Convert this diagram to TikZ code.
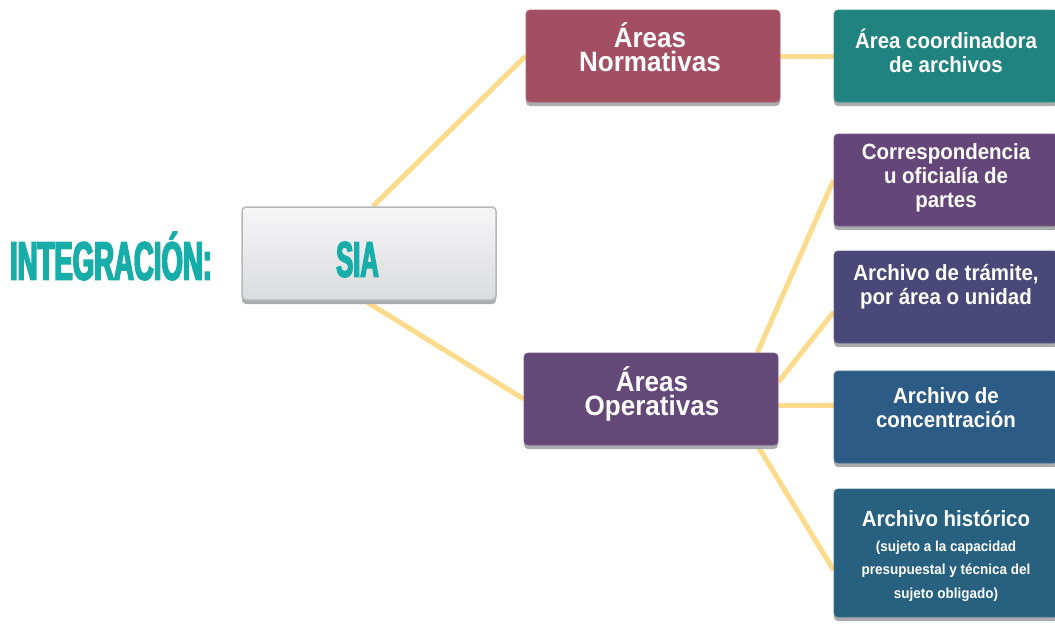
\documentclass[tikz,border=0pt]{standalone}
\usepackage{fontspec}
\setmainfont{Liberation Sans}
\newfontfamily\headfont{Liberation Sans}[FakeStretch=0.51, BoldFeatures={FakeBold=3}]
\newfontfamily\boxfont{Liberation Sans}[FakeStretch=0.93]
\usetikzlibrary{calc,shadows,backgrounds}

\definecolor{tealtxt}{HTML}{17ADA8}
\definecolor{link}{HTML}{FCDB8C}
\definecolor{shade}{HTML}{A9ABAE}
\definecolor{normc}{HTML}{A34E63}
\definecolor{coordc}{HTML}{21837F}
\definecolor{corrc}{HTML}{654678}
\definecolor{tramc}{HTML}{494878}
\definecolor{opc}{HTML}{644878}
\definecolor{concc}{HTML}{2C5B85}
\definecolor{histc}{HTML}{27617F}
\definecolor{siatop}{HTML}{F6F6F7}
\definecolor{siabot}{HTML}{DADBDD}
\definecolor{siaedge}{HTML}{B5B7B9}

\begin{document}
\begin{tikzpicture}[x=1pt, y=-1pt,
  conn/.style={draw=link, line width=5pt},
  panel/.style={rectangle, rounded corners=4pt, inner sep=0pt,
    minimum width=254pt, minimum height=92pt,
    fill=#1, draw=#1!88!white, line width=0.8pt,
    drop shadow={shadow xshift=0pt, shadow yshift=-4pt, fill=shade, opacity=1}},
  sidepanel/.style={panel=#1, minimum width=224pt},
  lab/.style={text=white, align=center, inner sep=0pt},
  biglab/.style={lab, font=\boxfont\bfseries\fontsize{28}{24}\selectfont},
  sidelab/.style={lab, font=\boxfont\bfseries\fontsize{22}{24}\selectfont},
  notelab/.style={lab, font=\boxfont\bfseries\fontsize{14.5}{23.5}\selectfont},
  headlab/.style={text=tealtxt, inner sep=0pt, font=\headfont\bfseries\fontsize{54}{60}\selectfont}
]
\useasboundingbox (0,0) rectangle (1055,625);
\clip (0,0) rectangle (1055,625);

% central box
\node[rectangle, rounded corners=4pt, minimum width=254pt, minimum height=93pt,
  top color=siatop, bottom color=siabot, draw=siaedge, line width=1.5pt,
  drop shadow={shadow xshift=0pt, shadow yshift=-4pt, fill=shade, opacity=1}]
  (sia) at (369,253.5) {};
\node[headlab, font=\headfont\bfseries\fontsize{50}{56}\selectfont] (siatxt) at (357.5,259.5) {SIA};
\node[headlab] (integ) at (111,256) {INTEGRACIÓN:};

% second level
\node[panel=normc] (norm) at (653,56) {};
\node[panel=opc] (op) at (651,399) {};
\node[biglab] (normtxt) at (650,47.5) {Áreas\\Normativas};
\node[biglab] (optxt) at (652,394) {Áreas\\Operativas};

% third level
\node[sidepanel=coordc] (coord) at (946,56) {};
\node[sidepanel=corrc] (corr) at (946,180) {};
\node[sidepanel=tramc] (tram) at (946,297) {};
\node[sidepanel=concc] (conc) at (946,417) {};
\node[sidepanel=histc, minimum height=128pt] (hist) at (946,553) {};

\node[sidelab] (coordtxt) at (946,51) {Área coordinadora\\de archivos};
\node[sidelab] (corrtxt) at (946,178) {Correspondencia\\u oficialía de\\partes};
\node[sidelab] (tramtxt) at (946,287) {Archivo de trámite,\\por área o unidad};
\node[sidelab] (conctxt) at (946,408) {Archivo de\\concentración};
\node[sidelab] (histtxt) at (946,519) {Archivo histórico};
\node[notelab] (histnote) at (946,571) {(sujeto a la capacidad\\presupuestal y técnica del\\sujeto obligado)};

% connectors behind the boxes
\begin{scope}[on background layer]
  \fill[white] (0,0) rectangle (1055,625);
  \draw[conn] ($(sia.north)+(4,0)$) -- (norm.west);
  \draw[conn] ($(sia.south)+(-4,0)$) -- (op.west);
  \draw[conn] (norm.east) -- (coord.west);
  \draw[conn] ($(op.north east)+(-21,0)$) -- (corr.west);
  \draw[conn] ($(op.east)+(0,-17)$) -- ($(tram.west)+(0,15)$);
  \draw[conn] ($(op.east)+(0,6)$) -- ($(conc.west)+(0,-12)$);
  \draw[conn] ($(op.south east)+(-21,0)$) -- ($(hist.west)+(0,17)$);
\end{scope}
\end{tikzpicture}
\end{document}
